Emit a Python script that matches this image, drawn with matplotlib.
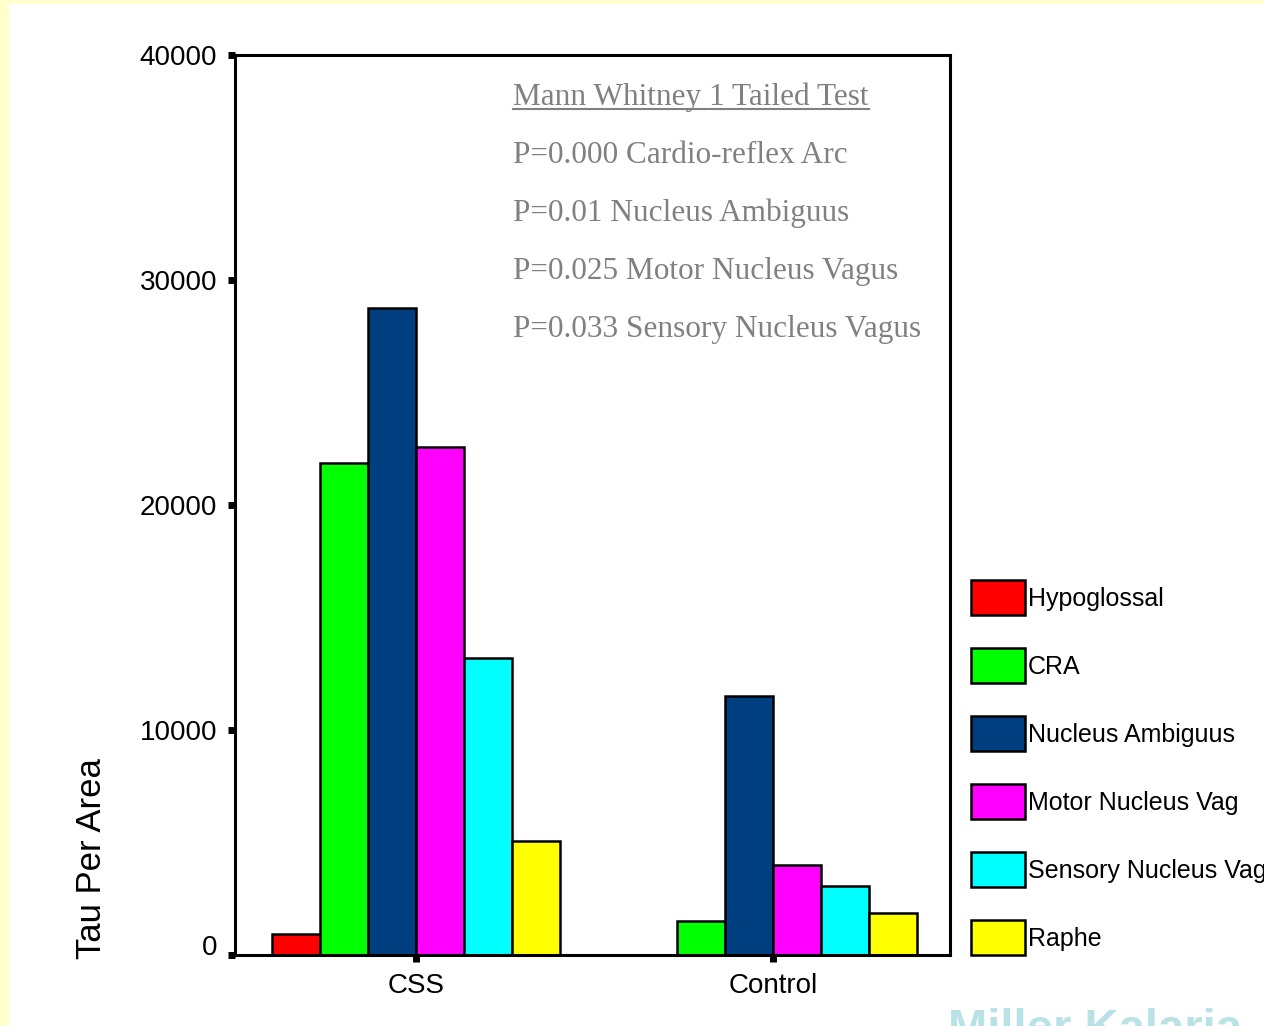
import matplotlib
matplotlib.use('Agg')
import matplotlib.pyplot as plt
import matplotlib.transforms as mtransforms
import numpy as np
from matplotlib.patches import Rectangle
from matplotlib.lines import Line2D

# data
groups = ['CSS', 'Control']
regions = ['Hypoglossal', 'CRA', 'Nucleus Ambiguus', 'Motor Nucleus Vag',
           'Sensory Nucleus Vag', 'Raphe']
colors = ['#FF0000', '#00FF00', '#003F7F', '#FF00FF', '#00FFFF', '#FFFF00']
css_vals = [930, 21870, 28760, 22580, 13200, 5070]
control_vals = [0, 1510, 11510, 4000, 3070, 1870]
yticks = [0, 10000, 20000, 30000, 40000]

stats_title = 'Mann Whitney 1 Tailed Test'
stats_lines = ['P=0.000 Cardio-reflex Arc',
               'P=0.01 Nucleus Ambiguus',
               'P=0.025 Motor Nucleus Vagus',
               'P=0.033 Sensory Nucleus Vagus']

plt.rcParams['font.family'] = 'Liberation Sans'

W, H = 1264, 1026
fig = plt.figure(figsize=(W / 100, H / 100), dpi=100, facecolor='#FFFFCC')
# white slide area inside the pale yellow border
fig.add_artist(Rectangle((9 / W, 0), 1, 1 - 4 / H, transform=fig.transFigure,
                         facecolor='white', edgecolor='none', zorder=-10))

ax = fig.add_axes([235 / W, 1 - 955 / H, 715 / W, 900 / H])
ax.set_facecolor('white')

x = np.arange(len(groups))
width = 0.1345
for i, name in enumerate(regions):
    vals = [css_vals[i], control_vals[i]]
    ax.bar(x + (i - 2.5) * width, vals, width, color=colors[i],
           edgecolor='black', linewidth=1.8, label=name, zorder=2)

ax.set_xlim(-0.507, 1.496)
ax.set_ylim(0, 40000)
ax.set_xticks(x)
ax.set_xticklabels(groups)
ax.set_yticks(yticks)
ax.set_yticklabels([str(v) for v in yticks])
for s in ax.spines.values():
    s.set_linewidth(2.2)
ax.tick_params(axis='both', direction='out', length=5, width=5, labelsize=20,
               top=False, right=False)
ax.tick_params(axis='y', pad=8)
ax.tick_params(axis='x', pad=8)

# the zero label sits a little above its tick in the original
zero_lab = ax.get_yticklabels()[0]
zero_lab.set_transform(zero_lab.get_transform()
                       + mtransforms.ScaledTranslation(0, 0.1, fig.dpi_scale_trans))

ax.set_ylabel('Tau Per Area', fontsize=25)
ax.yaxis.label.set_ha('left')
ax.yaxis.set_label_coords(-0.178, -0.004)

# stats annotation
bl = [0.9444, 0.88, 0.8156, 0.7511, 0.6867]
title_txt = ax.text(0.389, bl[0], stats_title, transform=ax.transAxes,
                    fontfamily='Liberation Serif', fontsize=22.5, color='#808080',
                    va='baseline', ha='left')
for k, line in enumerate(stats_lines):
    ax.text(0.389, bl[k + 1], line, transform=ax.transAxes,
            fontfamily='Liberation Serif', fontsize=22.5, color='#808080',
            va='baseline', ha='left')

fig.legend(loc='upper left', bbox_to_anchor=(971 / W, 1 - 580 / H),
           frameon=False, fontsize=18, handlelength=2.16, handleheight=1.777,
           handletextpad=0.12, labelspacing=1.32, borderpad=0, borderaxespad=0)

fig.text(948 / W, -16 / H, 'Miller Kalaria', fontsize=34, fontweight='bold',
         color='#B8E2E6', ha='left', va='baseline')

# underline the test name
fig.canvas.draw()
bb = title_txt.get_window_extent()
y_ul = ax.transAxes.transform((0, bl[0]))[1] - 4
inv = fig.transFigure.inverted()
p0 = inv.transform((bb.x0, y_ul))
p1 = inv.transform((bb.x1, y_ul))
fig.add_artist(Line2D([p0[0], p1[0]], [p0[1], p1[1]], color='#808080',
                      linewidth=1.5, transform=fig.transFigure))

fig.savefig('out.png', dpi=100, facecolor=fig.get_facecolor())
